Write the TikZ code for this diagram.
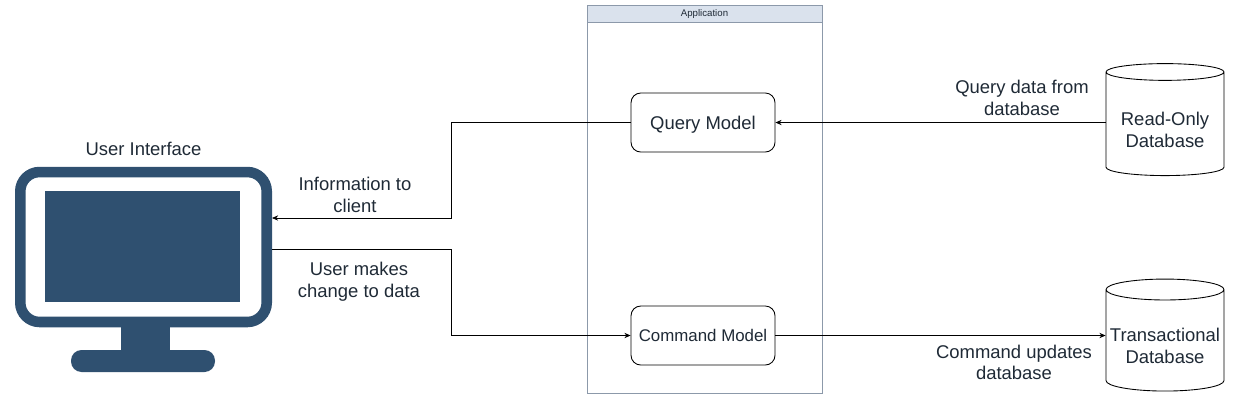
\documentclass[tikz,border=0pt]{standalone}
\usepackage{fontspec}
\setmainfont{Liberation Sans}
\usetikzlibrary{shapes.geometric,arrows.meta}
\definecolor{screenBlue}{HTML}{2F5070}
\definecolor{laneLine}{HTML}{8C99AA}
\definecolor{laneHead}{HTML}{DAE2ED}
\definecolor{textDark}{HTML}{1F2A36}

\begin{document}
\begin{tikzpicture}[x=0.02cm, y=-0.02cm, every node/.style={text=textDark, font=\fontsize{10.5}{12.4}\selectfont}]
            \tikzstyle{modelStyle} = [rectangle,rounded corners=5.5pt,draw=black,fill=white,line width=0.5pt,minimum width=2.88cm,minimum height=1.18cm,inner sep=0pt,text depth=0pt]
            \tikzstyle{dbStyle} = [cylinder,shape border rotate=90,aspect=0.19,draw=black,fill=white,line width=0.5pt,minimum width=2.36cm,minimum height=2.24cm,inner sep=0pt,align=center]
            \tikzstyle{labelStyle} = [align=center,inner sep=0pt]
            \tikzstyle{flowEdge} = [draw=black, line width=0.4pt, -{Stealth[length=3.5pt,width=3pt]}]
            \tikzstyle{laneStyle} = [rectangle,draw=laneLine,line width=0.45pt,inner sep=0pt]
            \path[use as bounding box] (0,0) rectangle (1240,400);
            % application lane
            \node[laneStyle,minimum width=4.7cm,minimum height=7.76cm] (lane) at (704.5,199) {};
            \node[laneStyle,fill=laneHead,minimum width=4.7cm,minimum height=0.34cm,font=\fontsize{5.5}{6}\selectfont] (laneHead) at (704.5,13.5) {Application};
            % monitor
            \fill[screenBlue,rounded corners=6pt] (71,350) rectangle (215,372);
            \fill[screenBlue] (121,322) rectangle (170,352);
            \node[rectangle,rounded corners=11pt,draw=screenBlue,fill=white,line width=6pt,minimum width=4.93cm,minimum height=3.0cm,inner sep=0pt] (frame) at (143.5,247) {};
            \node[rectangle,fill=screenBlue,minimum width=3.9cm,minimum height=2.22cm,inner sep=0pt] (screen) at (142.5,246.5) {};
            \node[labelStyle] (uiLabel) at (143.5,149) {User Interface};
            % models and databases
            \node[modelStyle] (query) at (703,122.5) {Query Model};
            \node[modelStyle,font=\fontsize{9.6}{12.4}\selectfont] (command) at (703,335.5) {Command Model};
            \node[dbStyle] (readDb) at (1165,124) {\mbox{}\\[1.6pt]Read-Only\\Database};
            \node[dbStyle] (transDb) at (1165,340.5) {\mbox{}\\[1.6pt]Transactional\\Database};
            % connector ends on the monitor
            \coordinate (uiIn) at (272,218);
            \coordinate (uiOut) at (272,249);
            % connectors
            \path[flowEdge] (query.west) -- (451,122.5) -- (451,218) -- (uiIn);
            \path[flowEdge] (uiOut) -- (451,249) -- (451,335.5) -- (command.west);
            \path[flowEdge] (readDb.west |- query.east) -- (query.east);
            \path[flowEdge] (command.east) -- (command.east -| transDb.west);
            % labels
            \node[labelStyle] (toClient) at (355,195) {Information to\\client};
            \node[labelStyle] (makesChange) at (359,281.5) {User makes\\change to data};
            \node[labelStyle] (queryData) at (1022,98) {Query data from\\database};
            \node[labelStyle] (commandUpdates) at (1014,362.5) {Command updates\\database};
        \end{tikzpicture}
\end{document}
